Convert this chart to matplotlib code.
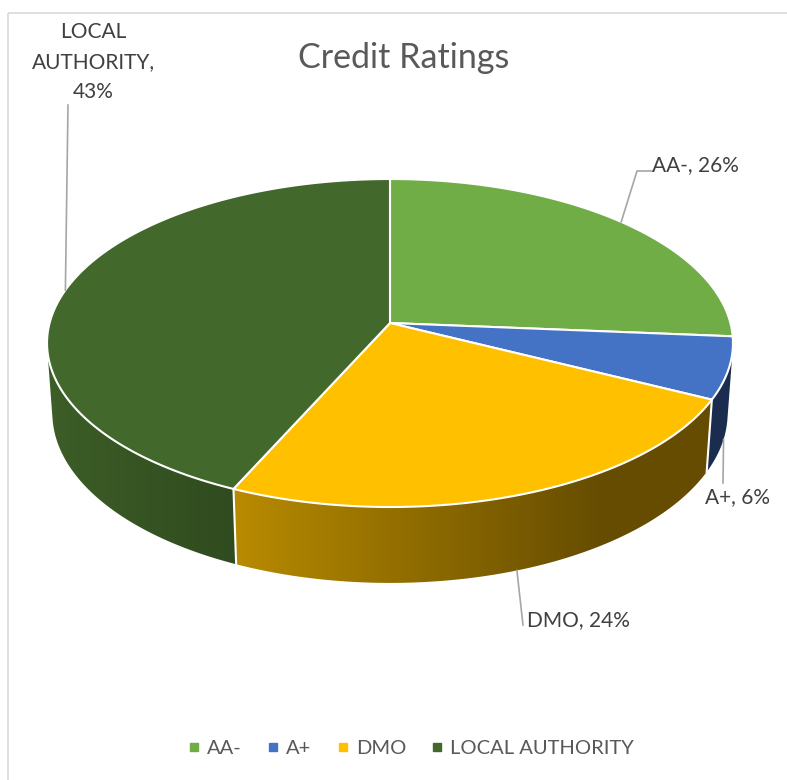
import numpy as np
import matplotlib.pyplot as plt
from matplotlib.patches import Polygon, Rectangle
from matplotlib.lines import Line2D
from matplotlib.colors import to_rgb

plt.rcParams['font.family'] = ['Lato', 'DejaVu Sans']

# data
categories = ["AA-", "A+", "DMO", "LOCAL AUTHORITY"]
shares = [26.3, 6.1, 24.3, 43.3]
top_colors = ["#70ad47", "#4472c4", "#ffc000", "#43682b"]
label_names = ["AA-", "A+", "DMO", "LOCAL\nAUTHORITY"]

# label layout (pixels): text position, alignment, leader line points after the anchor
label_pos = [(652, 165, 'left'), (705, 497, 'left'), (527, 620, 'left'), (93, 62, 'center')]
leader_pts = [[(637, 171), (652, 171)], [(723, 483)], [(523, 625)], [(68, 105)]]

# perspective set-up of the 3d pie (fitted to the picture)
CX, CY = 390, 323
R_D = 0.1386
SIN_E = 0.4746
COS_E = np.sqrt(1 - SIN_E ** 2)
F = 340.4 / R_D
H_D = 0.0327
ALPHA_S = np.degrees(np.arccos(-R_D / COS_E))  # where the side wall turns away


def project(alpha_deg, depth):
    a = np.radians(alpha_deg)
    x = R_D * np.sin(a)
    z = R_D * np.cos(a)
    h = -H_D * depth
    yc = z * SIN_E + h * COS_E
    w = 1 + z * COS_E - h * SIN_E
    return CX + F * x / w, CY - F * yc / w


def shade(x):
    return np.interp(x, [50, 237, 600, 733], [0.9, 0.72, 0.40, 0.40])


fig = plt.figure(figsize=(7.87, 7.80), dpi=100)
ax = fig.add_axes([0, 0, 1, 1])
ax.axis('off')

ax.add_patch(Rectangle((8, 13), 800, 800, fill=False, edgecolor='#d9d9d9', lw=1.2, zorder=0))

total = sum(shares)
bounds = np.concatenate([[0], np.cumsum(shares) / total * 360])

# side walls
for i in range(len(shares)):
    a0 = max(bounds[i], ALPHA_S)
    a1 = min(bounds[i + 1], 360 - ALPHA_S)
    if a1 <= a0:
        continue
    t = np.linspace(a0, a1, 200)
    xt, yt = project(t, 0)
    xb, yb = project(t[::-1], 1)
    pts = np.column_stack([np.concatenate([xt, xb]), np.concatenate([yt, yb])])
    poly = Polygon(pts, closed=True, facecolor='none', edgecolor='none', transform=ax.transData)
    ax.add_patch(poly)
    x0, x1 = pts[:, 0].min(), pts[:, 0].max()
    y0, y1 = pts[:, 1].min(), pts[:, 1].max()
    gx = np.linspace(x0, x1, 300)
    base = np.array(to_rgb(top_colors[i]))
    img = (shade(gx)[:, None] * base[None, :])[None, :, :]
    im = ax.imshow(img, extent=(x0, x1, y1, y0), aspect='auto', interpolation='bilinear', zorder=2)
    im.set_clip_path(poly)

# white seams on the side
for b in bounds[1:-1]:
    if ALPHA_S < b < 360 - ALPHA_S:
        xs, ys = project(np.array([b, b]), np.array([0, 1]))
        ax.plot(xs, ys, color='white', lw=1.5, zorder=3)

# top faces
for i in range(len(shares)):
    t = np.linspace(bounds[i], bounds[i + 1], 300)
    xt, yt = project(t, 0)
    pts = np.column_stack([np.concatenate([[CX], xt]), np.concatenate([[CY], yt])])
    ax.add_patch(Polygon(pts, closed=True, facecolor=top_colors[i], edgecolor='white',
                         lw=1.5, joinstyle='round', zorder=4))

# data labels with leader lines
for i in range(len(shares)):
    mid = (bounds[i] + bounds[i + 1]) / 2
    depth = 1 if ALPHA_S < mid < 360 - ALPHA_S else 0
    ax_, ay_ = project(mid, depth)
    line = [(ax_, ay_)] + leader_pts[i]
    ax.plot([p[0] for p in line], [p[1] for p in line], color='#a6a6a6', lw=1.2, zorder=5)
    lx, ly, ha = label_pos[i]
    sep = ",\n" if "\n" in label_names[i] else ", "
    ax.text(lx, ly, f"{label_names[i]}{sep}{round(shares[i])}%",
            ha=ha, va='center', fontsize=15, color='#404040', linespacing=1.6, zorder=6)

ax.text(404, 58, "Credit Ratings", ha='center', va='center', fontsize=24.5, color='#595959')

handles = [Line2D([], [], marker='s', ls='', color=c, markersize=6) for c in top_colors]
ax.legend(handles, categories, loc='center', bbox_to_anchor=(409, 748), bbox_transform=ax.transData,
          ncol=4, frameon=False, fontsize=14.5, handletextpad=0.15, columnspacing=1.05,
          labelcolor='#595959', handlelength=1.0)

ax.set_xlim(0, 787)
ax.set_ylim(780, 0)
fig.savefig("out.png", dpi=100)
